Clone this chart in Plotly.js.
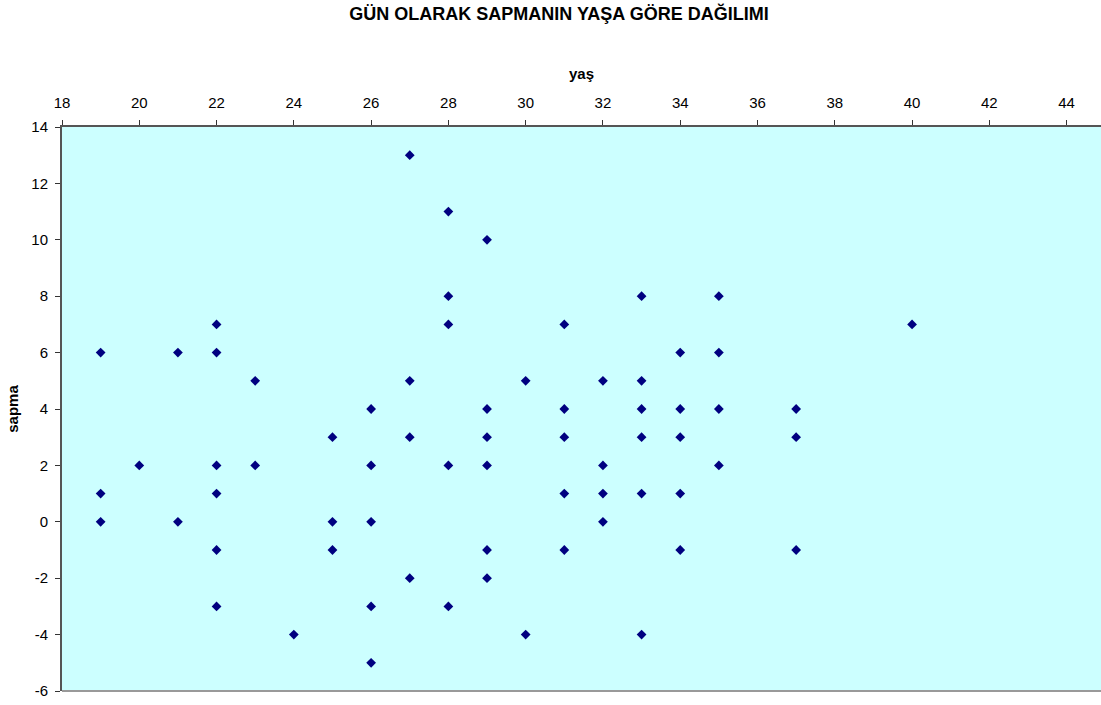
<!DOCTYPE html>
<html>
<head>
<meta charset="utf-8">
<script src="https://cdn.plot.ly/plotly-3.0.1.min.js"></script>
<style>html,body{margin:0;padding:0;background:#fff;}#chart{width:1101px;height:705px;}</style>
</head>
<body>
<div id="chart"></div>
<script>
// Age (yaş) and deviation in days (sapma)
const yas = [
  19, 19, 19,
  20,
  21, 21,
  22, 22, 22, 22, 22, 22,
  23, 23,
  24,
  25, 25, 25,
  26, 26, 26, 26, 26,
  27, 27, 27, 27,
  28, 28, 28, 28, 28,
  29, 29, 29, 29, 29, 29,
  30, 30,
  31, 31, 31, 31, 31,
  32, 32, 32, 32,
  33, 33, 33, 33, 33, 33,
  34, 34, 34, 34, 34,
  35, 35, 35, 35,
  37, 37, 37,
  40
];
const sapma = [
  6, 1, 0,
  2,
  6, 0,
  7, 6, 2, 1, -1, -3,
  5, 2,
  -4,
  3, 0, -1,
  4, 2, 0, -3, -5,
  13, 5, 3, -2,
  11, 8, 7, 2, -3,
  10, 4, 3, 2, -1, -2,
  5, -4,
  7, 4, 3, 1, -1,
  5, 2, 1, 0,
  8, 5, 4, 3, 1, -4,
  6, 4, 3, 1, -1,
  8, 6, 4, 2,
  4, 3, -1,
  7
];
const xTicks = [18, 20, 22, 24, 26, 28, 30, 32, 34, 36, 38, 40, 42, 44];
const yTicks = [-6, -4, -2, 0, 2, 4, 6, 8, 10, 12, 14];

const FONT = 'Liberation Sans, Arial, sans-serif';

const trace = {
  x: yas,
  y: sapma,
  type: 'scatter',
  mode: 'markers',
  marker: {symbol: 'diamond', size: 7.5, color: '#000080', line: {width: 0}},
  hoverinfo: 'x+y'
};

const layout = {
  width: 1101,
  height: 705,
  margin: {l: 62, r: 0, t: 127, b: 14, pad: 0},
  paper_bgcolor: '#ffffff',
  plot_bgcolor: '#CCFFFF',
  showlegend: false,
  font: {family: FONT, size: 15, color: '#000000'},
  title: {
    text: '<b>GÜN OLARAK SAPMANIN YAŞA GÖRE DAĞILIMI</b>',
    font: {family: FONT, size: 18, color: '#000000'},
    xref: 'container', yref: 'container',
    x: 559 / 1101, xanchor: 'center',
    y: 1 - 14 / 705, yanchor: 'middle'
  },
  xaxis: {
    side: 'top',
    range: [18, 44.89],
    tickvals: xTicks,
    ticktext: xTicks.map(String),
    ticks: 'outside',
    ticklen: 5,
    tickwidth: 1,
    tickcolor: '#333333',
    ticklabelstandoff: 6,
    showline: true,
    linecolor: '#555555',
    linewidth: 2,
    showgrid: false,
    zeroline: false,
    mirror: false,
    automargin: false,
    tickfont: {family: FONT, size: 15, color: '#000000'},
    title: {text: '<b>yaş</b>', font: {family: FONT, size: 15, color: '#000000'}, standoff: 11}
  },
  yaxis: {
    range: [-6, 14],
    tickvals: yTicks,
    ticktext: yTicks.map(String),
    ticks: 'outside',
    ticklen: 5,
    tickwidth: 1,
    tickcolor: '#333333',
    ticklabelstandoff: 4,
    showline: true,
    linecolor: '#555555',
    linewidth: 2,
    showgrid: false,
    zeroline: false,
    automargin: false,
    tickfont: {family: FONT, size: 15, color: '#000000'},
    title: {text: '<b>sapma</b>', font: {family: FONT, size: 15, color: '#000000'}, standoff: 9}
  },
  shapes: [
    {type: 'line', xref: 'paper', yref: 'paper', x0: 0, x1: 1, y0: 0, y1: 0,
     line: {color: '#999999', width: 2}}
  ]
};

Plotly.newPlot('chart', [trace], layout, {displayModeBar: false, staticPlot: true});
</script>
</body>
</html>
